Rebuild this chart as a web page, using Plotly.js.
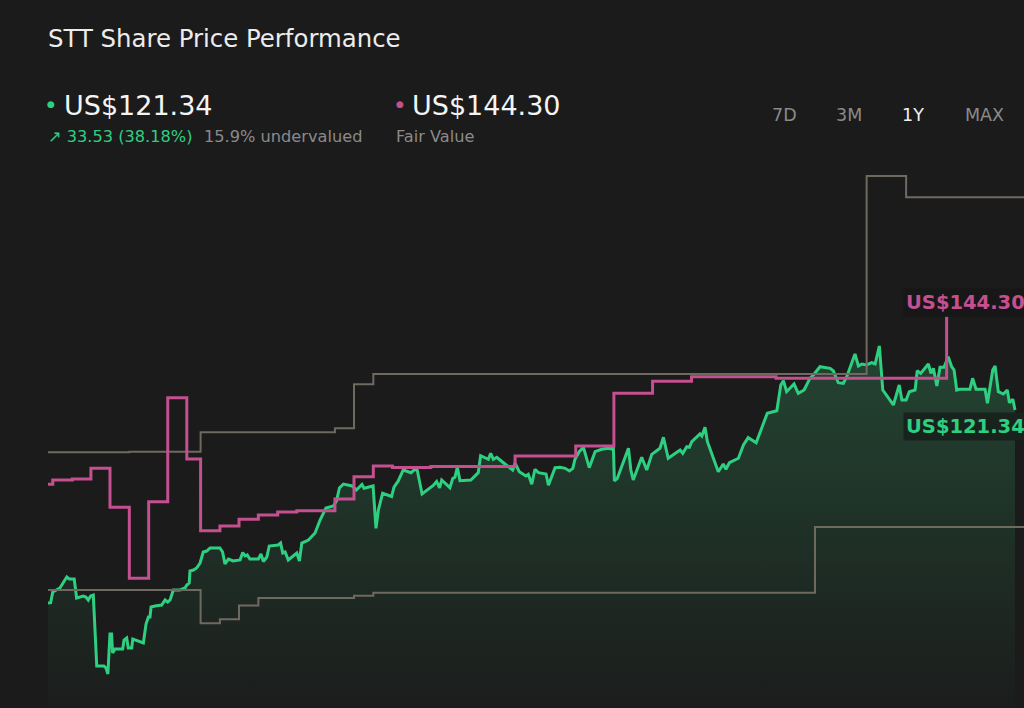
<!DOCTYPE html>
<html>
<head>
<meta charset="utf-8">
<script src="https://cdn.plot.ly/plotly-3.0.1.min.js"></script>
<style>
html,body{margin:0;padding:0;background:#1b1b1b;}
#chart{width:1024px;height:708px;}
</style>
</head>
<body>
<div id="chart"></div>
<script>
// ---- Data (days since start of the 1Y window, prices in US$) ----
const priceDays = [0,1.0,1.8,3.3,4.5,7.1,8.0,9.9,10.8,13.3,14.3,15.2,16.1,17.1,17.7,18.4,21.1,21.9,22.6,23.4,24.0,24.4,25.3,28.2,28.7,29.7,30.3,31.6,32.0,34.1,36.0,37.0,37.9,38.5,38.9,40.4,42.9,44.2,45.2,46.1,47.3,49.8,51.7,52.4,53.3,53.6,54.9,56.1,57.4,58.6,59.9,61.2,64.9,65.9,66.8,68.1,69.9,72.5,73.5,74.4,75.2,76.2,79.4,80.4,81.3,82.6,83.5,86.9,87.8,88.6,89.5,90.7,93.9,94.9,95.8,98.3,100.8,102.7,104.9,107.7,108.9,110.0,111.5,114.8,116.4,118.5,119.3,122.7,123.8,124.7,126.3,129.7,130.6,132.2,134.1,137.0,138.5,139.4,141.2,145.4,146.7,147.8,148.6,151.7,152.8,153.6,154.5,155.5,159.6,162.4,163.3,166.2,167.1,168.1,169.4,171.9,173.8,175.4,176.3,177.2,177.9,180.4,181.3,182.6,183.8,185.1,188.0,188.9,191.4,193.3,195.2,196.8,198.1,198.9,200.5,202.1,204.3,206.5,209.0,211.5,212.8,213.4,213.8,214.9,219.1,220.0,220.9,224.1,226.0,227.9,231.0,232.3,234.1,238.6,239.6,241.1,242.1,243.0,246.1,246.8,248.0,248.9,253.0,254.9,255.9,257.2,260.6,262.5,264.3,267.3,269.4,271.5,275.1,276.6,277.6,278.8,281.6,283.2,285.4,287.6,288.9,291.4,295.2,296.4,298.3,300.2,301.5,304.6,305.9,307.2,309.0,310.9,312.2,313.8,315.1,319.1,321.3,322.3,323.9,325.1,327.3,328.1,329.4,332.3,333.3,334.2,335.5,336.7,338.2,339.8,341.1,342.0,343.0,344.0,348.0,349.0,350.3,353.7,354.6,356.6,357.5,358.7,360.6,362.1,362.9,364.2,365.0];
const priceValues = [87.81,87.86,89.72,90.07,90.42,92.33,91.98,91.98,88.68,89.03,88.85,88.33,89.03,89.20,82.60,76.87,76.87,76.52,75.48,82.42,82.42,79.12,79.82,79.82,81.38,81.73,79.99,79.99,81.56,81.21,80.86,84.16,85.38,85.38,87.12,87.29,87.46,88.33,87.98,88.33,90.07,90.07,90.42,90.94,91.28,93.37,93.54,93.89,94.76,96.67,96.84,97.37,97.37,96.67,94.59,95.45,95.11,95.28,96.58,95.98,96.15,95.45,95.45,96.32,95.02,95.80,97.71,97.89,98.23,96.50,96.67,95.28,96.50,95.11,98.23,98.75,99.97,102.23,104.31,104.66,105.53,107.79,108.48,108.14,107.44,108.40,107.74,108.14,100.79,103.97,106.87,106.31,107.96,109.01,110.92,110.45,111.04,110.83,106.75,108.22,108.92,107.79,109.18,107.84,109.47,109.65,111.39,109.06,109.18,110.45,113.40,112.77,113.82,112.77,113.12,112.18,111.49,110.92,112.08,111.21,110.62,109.87,110.17,108.43,111.04,110.45,110.22,108.26,111.32,111.39,111.21,110.74,111.21,112.77,114.10,114.86,111.32,114.10,114.51,114.69,114.56,114.91,109.01,109.47,114.69,110.92,109.18,113.12,110.92,113.64,114.69,116.60,112.95,114.39,113.82,114.96,114.86,115.83,117.17,116.82,118.33,115.83,110.62,111.96,111.04,112.18,112.95,115.26,116.53,115.66,118.16,120.77,121.22,125.68,126.43,124.52,125.86,124.24,124.81,126.85,127.42,128.86,128.58,128.17,126.08,125.98,127.12,131.07,128.98,129.33,129.16,129.56,129.33,132.46,124.81,122.21,125.68,123.08,123.08,124.52,124.81,128.17,127.71,129.33,127.71,128.58,125.51,128.76,128.76,130.60,128.86,128.29,124.81,124.94,124.94,126.85,124.94,124.94,122.50,128.29,128.98,124.52,124.12,124.81,122.61,123.20,121.34];

const fairDays   = [0,1.8,9.2,16.2,23.4,30.7,38.0,45.2,52.4,57.6,64.9,72.1,79.4,86.7,93.9,108.3,115.5,122.8,130.0,144.5,176.3,199.2,213.6,228.2,242.9,274.8,339.2];
const fairValues = [108.43,109.18,109.35,111.21,104.44,92.10,105.41,123.48,112.83,100.37,101.19,102.35,103.10,103.62,103.85,105.88,109.75,111.61,111.35,111.52,113.35,115.09,124.24,126.33,127.12,126.85,137.55];

const highDays   = [0,30.7,57.6,108.3,115.5,122.8,309.0,323.9,368.4];
const highValues = [113.99,114.10,117.47,118.16,125.80,127.59,161.99,158.29,158.29];

const lowDays    = [0,57.6,64.9,72.1,79.4,115.5,122.8,289.5,368.4];
const lowValues  = [90.07,84.28,84.98,87.38,88.68,89.08,89.60,101.01,101.01];

const title = "STT Share Price Performance";
const lastPrice = "US$121.34";
const fairValueText = "US$144.30";
const changeText = "↗ 33.53 (38.18%)";
const valuationText = "15.9% undervalued";
const fairLabel = "Fair Value";
const periods = ["7D","3M","1Y","MAX"];
const activePeriod = "1Y";

// ---- Styles ----
const BG = "#1b1b1b";
const GREEN = "#2fcf81";
const PINK = "#c4508f";
const GREY = "#6f6a60";
const FONT = "DejaVu Sans";

const yRange = [69.57, 164.77];
const xRange = [0, 368.4];

const traces = [
  {
    x: priceDays, y: priceValues, type: "scatter", mode: "lines",
    line: {color: GREEN, width: 3},
    fill: "tozeroy",
    fillgradient: {type: "vertical", start: 69.57, stop: 131.76,
      colorscale: [[0, "rgb(27,29,28)"], [1, "rgb(35,68,50)"]]},
    hoverinfo: "skip"
  },
  {
    x: highDays, y: highValues, type: "scatter", mode: "lines",
    line: {color: GREY, width: 2, shape: "hv"}, hoverinfo: "skip"
  },
  {
    x: lowDays, y: lowValues, type: "scatter", mode: "lines",
    line: {color: GREY, width: 2, shape: "hv"}, hoverinfo: "skip"
  },
  {
    x: fairDays, y: fairValues, type: "scatter", mode: "lines",
    line: {color: PINK, width: 3, shape: "hv"}, hoverinfo: "skip"
  }
];

const W = 1024, H = 708, L = 48, T = 160;
const px = X => (X - L) / (W - L);          // pixel x -> paper x
const py = Y => (H - Y) / (H - T);          // pixel y -> paper y

const annotations = [
  {text: "●", x: px(51), y: py(104), xanchor: "center", yanchor: "middle", font: {family: FONT, size: 9, color: GREEN}},
  {text: lastPrice, x: px(62), y: py(105), xanchor: "left", yanchor: "middle", font: {family: FONT, size: 27, color: "#f4f4f4"}},
  {text: "●", x: px(400), y: py(104), xanchor: "center", yanchor: "middle", font: {family: FONT, size: 9, color: PINK}},
  {text: fairValueText, x: px(410), y: py(105), xanchor: "left", yanchor: "middle", font: {family: FONT, size: 27, color: "#f4f4f4"}},
  {text: changeText, x: px(46), y: py(137), xanchor: "left", yanchor: "middle", font: {family: FONT, size: 16.2, color: GREEN}},
  {text: valuationText, x: px(202), y: py(137), xanchor: "left", yanchor: "middle", font: {family: FONT, size: 16.2, color: "#8a8a8a"}},
  {text: fairLabel, x: px(394), y: py(137), xanchor: "left", yanchor: "middle", font: {family: FONT, size: 16.2, color: "#8a8a8a"}},
  {text: "<b>" + fairValueText + "</b>", x: px(903), y: py(302), xanchor: "left", yanchor: "middle",
   font: {family: FONT, size: 19.5, color: PINK}, bgcolor: "#171717", borderpad: 2},
  {text: "<b>" + lastPrice + "</b>", x: px(903), y: py(426), xanchor: "left", yanchor: "middle",
   font: {family: FONT, size: 19.5, color: GREEN}, bgcolor: "#18231d", borderpad: 2}
];
const periodX = [784, 849, 913, 984];
periods.forEach((p, i) => annotations.push({
  text: p, x: px(periodX[i]), y: py(115), xanchor: "center", yanchor: "middle",
  font: {family: FONT, size: 17.5, color: p === activePeriod ? "#f0f0f0" : "#8a8a8a"}
}));
annotations.forEach(a => { a.xref = "paper"; a.yref = "paper"; a.showarrow = false; });

const layout = {
  width: W, height: H,
  paper_bgcolor: BG, plot_bgcolor: BG,
  margin: {l: L, r: 0, t: T, b: 0, pad: 0},
  showlegend: false,
  title: {text: title, x: 48 / W, xref: "container", xanchor: "left",
          y: 1 - 38 / H, yref: "container", yanchor: "middle",
          font: {family: FONT, size: 24.4, color: "#ececec"}},
  xaxis: {range: xRange, visible: false, fixedrange: true},
  yaxis: {range: yRange, visible: false, fixedrange: true},
  annotations: annotations
};

Plotly.newPlot("chart", traces, layout, {staticPlot: true, displayModeBar: false});
</script>
</body>
</html>
